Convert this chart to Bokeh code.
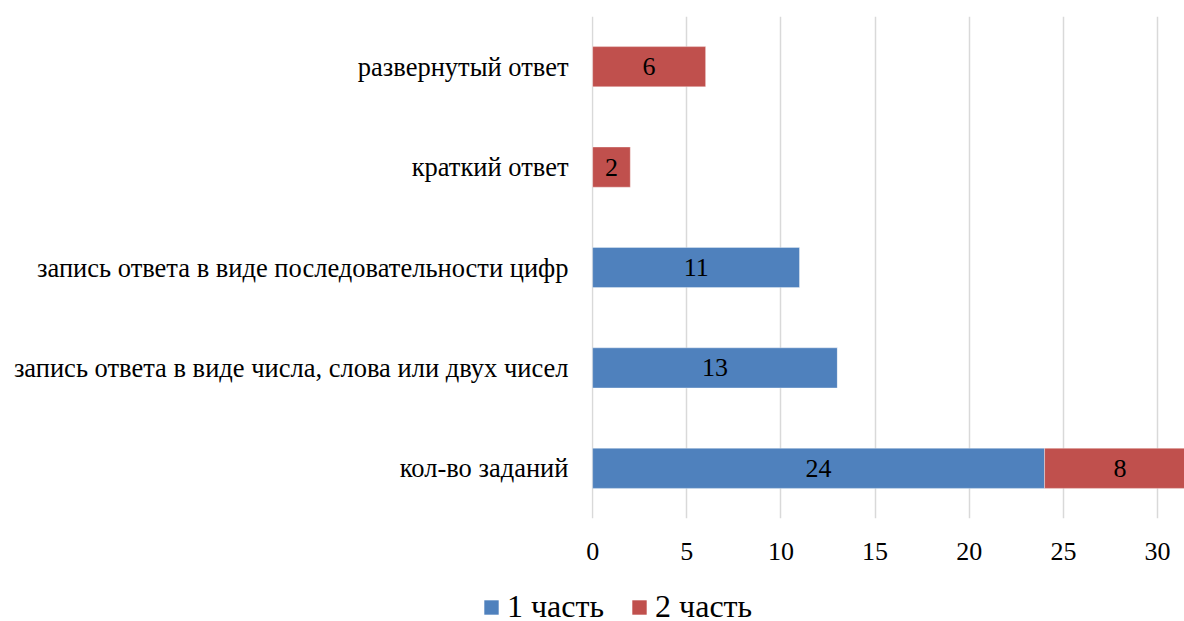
from bokeh.plotting import figure
from bokeh.layouts import column
from bokeh.models import ColumnDataSource, Range1d, FactorRange, Legend, LegendItem, FixedTicker
from bokeh.core.properties import value
from bokeh.embed import file_html
from bokeh.resources import INLINE

# Task types (bottom to top) and counts for each part of the exam
categories = [
    "кол-во заданий",
    "запись ответа в виде числа, слова или двух чисел",
    "запись ответа в виде последовательности цифр",
    "краткий ответ",
    "развернутый ответ",
]
part1 = [24, 13, 11, 0, 0]
part2 = [8, 0, 0, 2, 6]
series_names = ["1 часть", "2 часть"]
x_ticks = [0, 5, 10, 15, 20, 25, 30]

BLUE = "#4f81bd"
RED = "#c0504d"
COLORS = [BLUE, RED]
FONT = "Liberation Serif"

source = ColumnDataSource(dict(cat=categories, p1=part1, p2=part2))

p = figure(
    width=1184, height=580,
    y_range=FactorRange(*categories),
    x_range=Range1d(-0.06, 31.43),
    output_backend="svg", toolbar_location=None,
    min_border_left=591, min_border_right=0,
    min_border_top=16, min_border_bottom=62,
)
p.outline_line_color = None
p.background_fill_color = "white"
p.border_fill_color = "white"

p.hbar_stack(
    ["p1", "p2"], y="cat", height=0.4, source=source,
    color=COLORS, line_color="white", line_alpha=0.35, line_width=1,
)

# value labels centred within each non-empty segment
lx, ly, lt = [], [], []
for c, a, b in zip(categories, part1, part2):
    if a:
        lx.append(a / 2); ly.append(c); lt.append(str(a))
    if b:
        lx.append(a + b / 2); ly.append(c); lt.append(str(b))
p.text(x=lx, y=ly, text=lt, text_align="center", text_baseline="middle",
       text_font=value(FONT), text_font_size="26px", text_color="black")

# axes
p.xaxis.ticker = FixedTicker(ticks=x_ticks)
p.xaxis.axis_line_color = None
p.xaxis.major_tick_line_color = None
p.xaxis.minor_tick_line_color = None
p.xaxis.major_label_text_font = FONT
p.xaxis.major_label_text_font_size = "26px"
p.xaxis.major_label_text_color = "black"
p.xaxis.major_label_standoff = 18

p.yaxis.axis_line_color = None
p.yaxis.major_tick_line_color = None
p.yaxis.minor_tick_line_color = None
p.yaxis.major_label_text_font = FONT
p.yaxis.major_label_text_font_size = "26.5px"
p.yaxis.major_label_text_color = "black"
p.yaxis.major_label_standoff = 17

p.xgrid.grid_line_color = "#d9d9d9"
p.xgrid.grid_line_width = 1.5
p.ygrid.grid_line_color = None

# legend strip below the chart (ranges in pixel units of the strip)
leg = figure(
    width=1184, height=41, x_range=Range1d(0, 1184), y_range=Range1d(0, 41),
    x_axis_type=None, y_axis_type=None,
    output_backend="svg", toolbar_location=None,
    min_border=0,
)
leg.outline_line_color = None
leg.grid.visible = False
# swatch renderers kept outside the visible range; only their legend glyphs show
swatches = [leg.rect(x=[-1000], y=[-1000], width=1, height=1, fill_color=c, line_color=None)
            for c in COLORS]
legend = Legend(
    items=[LegendItem(label=n, renderers=[r]) for n, r in zip(series_names, swatches)],
    orientation="horizontal",
    location=(482, -4),
    label_text_font=FONT, label_text_font_size="32px", label_text_color="black",
    glyph_width=18, glyph_height=18, label_standoff=7, spacing=26,
    padding=0, margin=0, border_line_color=None, background_fill_alpha=0,
)
leg.add_layout(legend, "center")

# keep each plot's frame independent of the other's borders
p.frame_align = False
leg.frame_align = False

open("out.html", "w").write(file_html(column(p, leg, spacing=0), INLINE))
